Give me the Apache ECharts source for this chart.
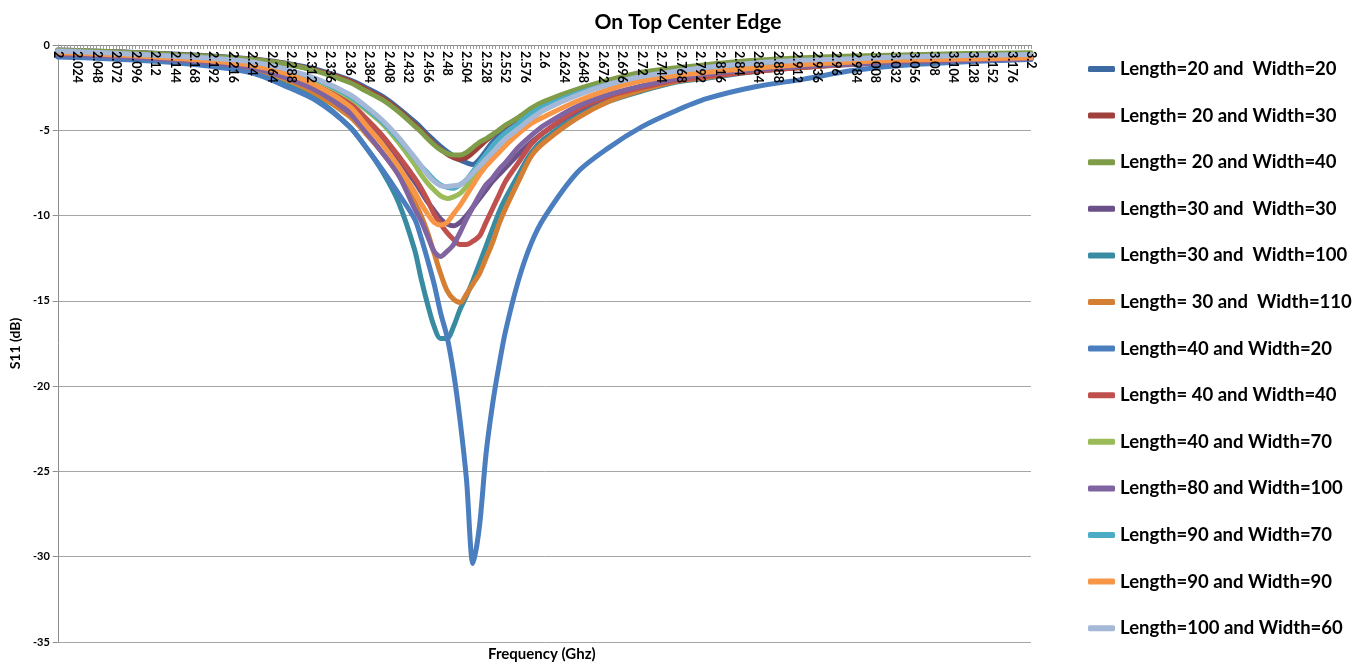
<!DOCTYPE html>
<html>
<head>
<meta charset="utf-8">
<script src="https://cdn.jsdelivr.net/npm/echarts@6/dist/echarts.min.js"></script>
<style>
  html, body { margin: 0; padding: 0; background: #fff; }
  #chart { width: 1370px; height: 666px; }
</style>
</head>
<body>
<div id="chart"></div>
<script>
// x axis: 2 to 3.2 GHz in 0.004 steps (301 categories)
var freqStart = 2;
var freqStep = 0.004;
var freqCount = 301;

var sampleFreq = [2, 2.06, 2.12, 2.18, 2.24, 2.28, 2.32, 2.36, 2.38, 2.4,
  2.42, 2.44, 2.448, 2.456, 2.464, 2.472, 2.48, 2.488, 2.496, 2.504,
  2.512, 2.52, 2.528, 2.536, 2.544, 2.552, 2.568, 2.584, 2.6, 2.64,
  2.68, 2.72, 2.76, 2.8, 2.86, 2.92, 2.98, 3.04, 3.12, 3.2];

var seriesNames = [
  'Length=20 and  Width=20',
  'Length= 20 and Width=30',
  'Length= 20 and Width=40',
  'Length=30 and  Width=30',
  'Length=30 and  Width=100',
  'Length= 30 and  Width=110',
  'Length=40 and Width=20',
  'Length= 40 and Width=40',
  'Length=40 and Width=70',
  'Length=80 and Width=100',
  'Length=90 and Width=70',
  'Length=90 and Width=90',
  'Length=100 and Width=60'
];

// S11 (dB) values, one array per series, matching sampleFreq
var l20w20 = [-0.3, -0.38, -0.48, -0.62, -0.82, -1.05, -1.45, -2.05, -2.5, -3.0,
  -3.7, -4.5, -4.85, -5.25, -5.6, -5.95, -6.25, -6.5, -6.75, -6.9,
  -7.0, -6.7, -6.2, -5.7, -5.3, -4.9, -4.3, -3.8, -3.4, -2.7,
  -2.15, -1.75, -1.45, -1.25, -1.0, -0.85, -0.75, -0.68, -0.6, -0.55];
var l20w30 = [-0.32, -0.4, -0.5, -0.64, -0.84, -1.08, -1.5, -2.1, -2.6, -3.1,
  -3.8, -4.65, -5.0, -5.4, -5.8, -6.1, -6.4, -6.6, -6.7, -6.6,
  -6.3, -5.95, -5.6, -5.3, -5.0, -4.75, -4.25, -3.75, -3.35, -2.65,
  -2.1, -1.7, -1.42, -1.22, -0.98, -0.83, -0.73, -0.65, -0.58, -0.52];
var l20w40 = [-0.3, -0.38, -0.5, -0.65, -0.85, -1.1, -1.55, -2.2, -2.7, -3.2,
  -3.9, -4.75, -5.1, -5.5, -5.85, -6.15, -6.35, -6.45, -6.45, -6.3,
  -6.0, -5.7, -5.5, -5.25, -5.0, -4.7, -4.25, -3.7, -3.3, -2.6,
  -2.05, -1.6, -1.35, -1.15, -0.9, -0.75, -0.65, -0.58, -0.5, -0.45];
var l30w30 = [-0.5, -0.6, -0.75, -0.95, -1.3, -1.8, -2.5, -3.7, -4.6, -5.6,
  -6.8, -8.0, -8.6, -9.2, -9.7, -10.2, -10.5, -10.6, -10.4, -10.0,
  -9.5, -9.0, -8.5, -8.0, -7.6, -7.2, -6.4, -5.7, -5.1, -3.9,
  -3.1, -2.5, -2.1, -1.8, -1.5, -1.3, -1.15, -1.0, -0.9, -0.8];
var l30w100 = [-0.65, -0.75, -0.9, -1.1, -1.55, -2.3, -3.2, -4.8, -6.0, -7.4,
  -9.2, -12.0, -13.7, -15.2, -16.5, -17.2, -17.2, -16.5, -15.5, -14.7,
  -13.8, -12.8, -11.8, -10.8, -9.8, -9.0, -7.6, -6.3, -5.5, -4.2,
  -3.3, -2.7, -2.2, -1.95, -1.55, -1.3, -1.1, -1.0, -0.85, -0.75];
var l30w110 = [-0.55, -0.65, -0.8, -1.0, -1.4, -2.0, -2.9, -4.2, -5.2, -6.3,
  -7.6, -9.2, -10.0, -11.0, -12.2, -13.4, -14.4, -14.9, -15.1, -14.6,
  -14.0, -13.4, -12.5, -11.6, -10.5, -9.6, -8.0, -6.5, -5.7, -4.3,
  -3.3, -2.65, -2.15, -1.9, -1.5, -1.3, -1.1, -0.95, -0.85, -0.75];
var l40w20 = [-0.7, -0.8, -0.95, -1.2, -1.65, -2.4, -3.3, -4.8, -6.0, -7.3,
  -8.7, -10.2, -11.3, -12.6, -14.0, -15.7, -17.1, -19.2, -22.0, -25.5,
  -30.4, -28.2, -24.0, -21.1, -18.8, -16.8, -13.8, -11.6, -10.1, -7.5,
  -6.0, -4.8, -3.9, -3.15, -2.45, -2.0, -1.5, -1.2, -0.98, -0.85];
var l40w40 = [-0.5, -0.6, -0.75, -0.95, -1.25, -1.7, -2.4, -3.4, -4.3, -5.3,
  -6.5, -7.8, -8.4, -9.1, -9.9, -10.5, -11.0, -11.4, -11.7, -11.7,
  -11.5, -11.2, -10.4, -9.6, -8.8, -8.0, -6.9, -5.8, -5.1, -3.8,
  -3.0, -2.5, -2.1, -1.85, -1.55, -1.3, -1.1, -0.95, -0.85, -0.75];
var l40w70 = [-0.4, -0.5, -0.65, -0.8, -1.1, -1.5, -2.1, -3.1, -3.8, -4.6,
  -5.7, -7.0, -7.6, -8.1, -8.5, -8.85, -9.0, -8.9, -8.7, -8.3,
  -7.8, -7.3, -6.8, -6.35, -5.95, -5.55, -4.9, -4.3, -3.8, -2.9,
  -2.3, -1.9, -1.6, -1.4, -1.15, -1.0, -0.9, -0.8, -0.7, -0.65];
var l80w100 = [-0.55, -0.65, -0.8, -1.0, -1.35, -1.9, -2.7, -4.0, -5.1, -6.3,
  -7.6, -9.6, -10.3, -11.2, -12.1, -12.4, -12.1, -11.7, -11.0, -10.2,
  -9.5, -8.8, -8.2, -7.8, -7.3, -6.9, -6.0, -5.3, -4.7, -3.6,
  -2.9, -2.4, -2.0, -1.7, -1.45, -1.25, -1.1, -1.0, -0.9, -0.8];
var l90w70 = [-0.4, -0.5, -0.62, -0.78, -1.05, -1.45, -2.05, -3.0, -3.7, -4.5,
  -5.5, -6.6, -7.1, -7.5, -7.9, -8.2, -8.35, -8.4, -8.2, -7.9,
  -7.4, -6.9, -6.4, -5.9, -5.5, -5.15, -4.6, -4.0, -3.6, -2.85,
  -2.3, -1.9, -1.6, -1.45, -1.2, -1.0, -0.9, -0.8, -0.7, -0.65];
var l90w90 = [-0.45, -0.55, -0.7, -0.9, -1.2, -1.65, -2.4, -3.6, -4.7, -5.8,
  -7.1, -8.6, -9.3, -9.9, -10.4, -10.55, -10.4, -9.9, -9.4, -8.8,
  -8.2, -7.6, -7.1, -6.7, -6.3, -5.9, -5.2, -4.6, -4.2, -3.3,
  -2.6, -2.1, -1.8, -1.6, -1.35, -1.15, -1.0, -0.9, -0.82, -0.75];
var l100w60 = [-0.35, -0.45, -0.6, -0.75, -1.0, -1.4, -2.0, -2.9, -3.6, -4.4,
  -5.4, -6.6, -7.1, -7.6, -8.0, -8.25, -8.3, -8.25, -8.2, -7.9,
  -7.5, -7.1, -6.7, -6.3, -5.9, -5.5, -4.9, -4.3, -3.8, -2.95,
  -2.3, -1.85, -1.55, -1.3, -1.05, -0.9, -0.8, -0.7, -0.62, -0.55];

var seriesValues = [l20w20, l20w30, l20w40, l30w30, l30w100, l30w110, l40w20,
  l40w40, l40w70, l80w100, l90w70, l90w90, l100w60];

var colors = ['#3D6AA3', '#A0403D', '#7F9C48', '#6A5289', '#388BA1', '#D47F33',
  '#4A7EBF', '#C0504D', '#9BBB59', '#8064A2', '#4BACC6', '#F79646', '#A5B8D7'];

// build the category labels: 2, 2.004, ... 3.2
var categories = [];
for (var i = 0; i < freqCount; i++) {
  categories.push(String(+(freqStart + i * freqStep).toFixed(3)));
}

function freqIndex(f) {
  return Math.round((f - freqStart) / freqStep);
}

var series = seriesValues.map(function (vals, k) {
  return {
    name: seriesNames[k],
    type: 'line',
    showSymbol: false,
    smooth: 0.3,
    data: vals.map(function (v, j) { return [freqIndex(sampleFreq[j]), v]; }),
    lineStyle: { width: 5, color: colors[k], cap: 'round', join: 'round' },
    itemStyle: { color: colors[k] }
  };
});

var chart = echarts.init(document.getElementById('chart'), null, { renderer: 'canvas' });
var font = 'Lato, "Open Sans", sans-serif';

var option = {
  animation: false,
  title: {
    text: 'On Top Center Edge',
    left: 683,
    textAlign: 'center',
    top: 7,
    textStyle: { fontFamily: font, fontSize: 21, fontWeight: 'bold', color: '#000' }
  },
  legend: {
    orient: 'vertical',
    left: 1083,
    top: 54,
    itemWidth: 27,
    itemHeight: 6,
    itemGap: 26.6,
    icon: 'roundRect',
    data: seriesNames,
    textStyle: { fontFamily: font, fontSize: 18.5, fontWeight: 'bold', color: '#000', lineHeight: 20 }
  },
  grid: { left: 56, right: 339, top: 45, bottom: 24 },
  xAxis: {
    type: 'category',
    position: 'top',
    z: 10,
    data: categories,
    boundaryGap: false,
    axisLine: { onZero: false, lineStyle: { color: '#8c8c8c', width: 1 } },
    axisTick: { interval: 0, inside: true, length: 4, lineStyle: { color: '#9a9a9a' } },
    axisLabel: {
      interval: 5,
      inside: true,
      rotate: 90,
      margin: 6,
      fontFamily: font,
      fontSize: 12.5,
      fontWeight: 'bold',
      color: '#000'
    },
    splitLine: { show: false }
  },
  yAxis: {
    type: 'value',
    min: -35,
    max: 0,
    interval: 5,
    name: 'S11 (dB)',
    nameLocation: 'middle',
    nameRotate: 90,
    nameGap: 35,
    nameTextStyle: { fontFamily: font, fontSize: 14, fontWeight: 'bold', color: '#000' },
    axisLine: { show: true, lineStyle: { color: '#8c8c8c' } },
    axisTick: { show: true, length: 5, lineStyle: { color: '#8c8c8c' } },
    axisLabel: { fontFamily: font, fontSize: 11, fontWeight: 'bold', color: '#000', margin: 8 },
    splitLine: { lineStyle: { color: '#a6a6a6', width: 1 } }
  },
  graphic: [{
    type: 'text',
    left: 488,
    top: 647,
    style: { text: 'Frequency (Ghz)', font: 'bold 15px ' + font, fill: '#000' }
  }],
  series: series
};

chart.setOption(option);
</script>
</body>
</html>
